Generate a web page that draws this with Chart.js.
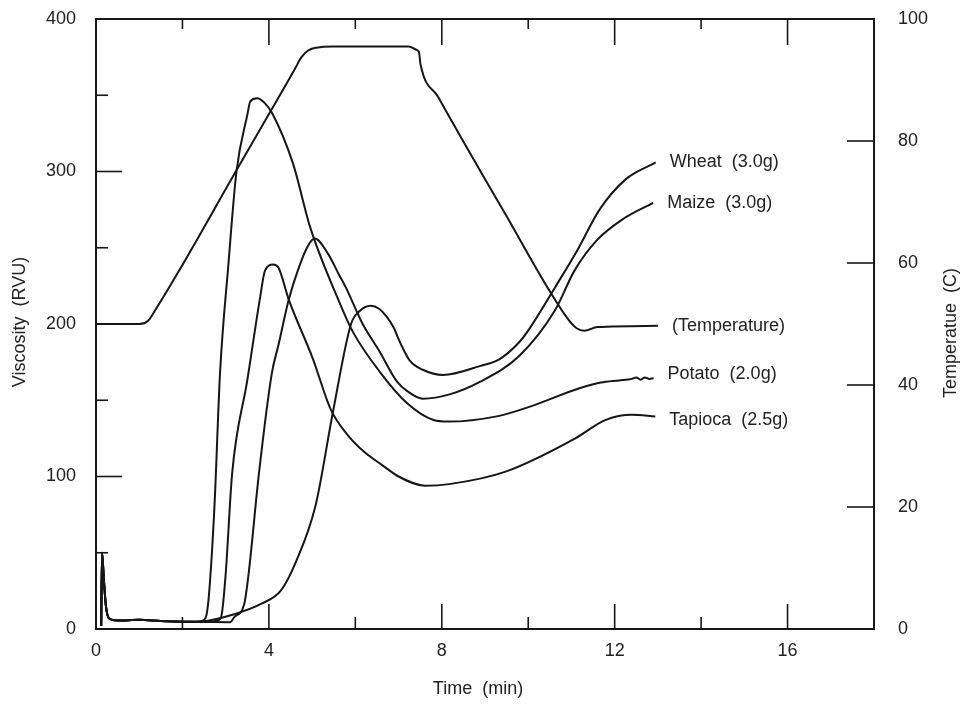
<!DOCTYPE html>
<html>
<head>
<meta charset="utf-8">
<script src="https://cdn.jsdelivr.net/npm/chart.js@4.4.1/dist/chart.umd.min.js"></script>
<style>
  html, body { margin: 0; padding: 0; background: #fff; }
</style>
</head>
<body>
<canvas id="rva" width="963" height="705"></canvas>
<script>
// RVA pasting curves: viscosity (RVU) vs time (min), temperature on the right axis

// start-up spike and flat baseline shared by every starch trace
const baseT = [0.12, 0.14, 0.18, 0.23, 0.30, 0.50, 1.00, 1.50, 2.00];
const baseV = [2, 50, 33, 15, 7, 5.5, 6, 5.2, 4.8];

const wheatT = [2.45, 3.20, 3.83, 4.28, 4.64, 5.08, 5.48, 5.90, 6.08, 6.36, 6.55, 6.72, 6.88, 7.05, 7.26, 7.56, 8.03, 8.88, 9.34, 9.79, 10.03, 10.62, 11.14, 11.65, 12.26, 12.95];
const wheatV = [5, 9.7, 16.6, 25.3, 45, 81, 142, 200, 208, 212, 210, 205, 198, 187, 176, 170, 166.6, 172.4, 177, 188, 197, 224, 248.6, 275, 295, 306];

const maizeT = [2.60, 3.10, 3.20, 3.43, 3.53, 3.77, 4.07, 4.22, 4.46, 4.68, 4.90, 5.06, 5.37, 5.61, 5.78, 6.17, 6.56, 6.97, 7.20, 7.56, 8.20, 8.88, 9.79, 10.62, 11.07, 11.59, 12.20, 12.89];
const maizeV = [4.6, 4.5, 7.8, 16.4, 36, 102, 168, 186, 216, 236, 251, 256, 246, 233, 224, 200, 182, 162, 156, 151, 154, 162, 179, 209, 235, 255, 269, 279.5];

const potatoT = [2.40, 2.50, 2.56, 2.62, 2.74, 2.87, 3.06, 3.25, 3.50, 3.57, 3.73, 3.90, 4.08, 4.56, 4.96, 5.62, 5.94, 6.57, 7.20, 7.81, 8.14, 9.30, 10.06, 11.20, 11.68, 12.10, 12.40, 12.50, 12.60, 12.70, 12.80, 12.90];
const potatoV = [5, 6, 9.6, 24.7, 80, 168, 238, 300, 337, 346, 348, 345, 338, 305, 263, 215, 195, 168.5, 148, 137, 136, 139.6, 146, 158, 161.6, 163, 164, 165, 163.5, 165, 164, 164.5];

const tapiocaT = [2.50, 2.80, 2.86, 2.91, 3.00, 3.15, 3.50, 3.80, 3.91, 4.10, 4.22, 4.46, 5.02, 5.43, 5.80, 6.21, 6.62, 7.00, 7.61, 8.17, 9.46, 11.09, 11.78, 12.40, 12.94];
const tapiocaV = [4.8, 5.5, 6.3, 9.7, 36, 102, 163, 218, 235, 239, 237, 216, 177, 144, 128, 116, 107.5, 100, 94, 95, 103, 125, 137, 140.5, 139.4];

// temperature profile (C)
const tempT = [0, 1.00, 1.20, 1.39, 1.91, 3.25, 4.44, 4.60, 4.75, 4.90, 5.10, 5.50, 7.24, 7.40, 7.47, 7.51, 7.91, 9.44, 10.90, 11.12, 11.30, 11.60, 13.00];
const tempC = [50, 50, 50.5, 52.5, 58.6, 75.2, 89.8, 91.8, 93.7, 94.8, 95.3, 95.5, 95.5, 95, 94.6, 92.5, 87.3, 68.4, 51, 49.3, 48.9, 49.5, 49.7];

const seriesNames = ["Wheat  (3.0g)", "Maize  (3.0g)", "(Temperature)", "Potato  (2.0g)", "Tapioca  (2.5g)"];

// axis ticks
const xLabels = [0, 4, 8, 12, 16];
const xMajor = [4, 8, 12, 16];
const xMinor = [2, 6, 10, 14];
const vLabels = [0, 100, 200, 300, 400];
const vMajor = [100, 200, 300];
const vMinor = [50, 150, 250, 350];
const cLabels = [0, 20, 40, 60, 80, 100];
const cMajor = [20, 40, 60, 80];

const INK = "#161616";
const TXT = "#222";
const FONT = "'Liberation Sans', Arial, sans-serif";
const labelNudge = [0, 0, 0, -4, 4];

const pts = (ts, vs) => ts.map((t, i) => ({x: t, y: vs[i]}));
const withBase = (ts, vs) => pts(baseT.concat(ts), baseV.concat(vs));

const lineSet = (label, data, axis = "y") => ({
  label, data, yAxisID: axis,
  borderColor: INK, borderWidth: 2, pointRadius: 0, fill: false,
  cubicInterpolationMode: "monotone",
});

// frame, inward tick marks, axis titles and end-of-curve labels
const decor = {
  id: "decor",
  afterDatasetsDraw(chart) {
    const {ctx, chartArea: a, scales} = chart;
    const seg = (x1, y1, x2, y2) => { ctx.beginPath(); ctx.moveTo(x1, y1); ctx.lineTo(x2, y2); ctx.stroke(); };
    ctx.save();
    ctx.strokeStyle = INK;
    ctx.lineWidth = 2;
    ctx.strokeRect(a.left, a.top, a.right - a.left, a.bottom - a.top);
    ctx.lineWidth = 1.6;
    for (const v of xMajor) { const p = scales.x.getPixelForValue(v); seg(p, a.bottom, p, a.bottom - 25); seg(p, a.top, p, a.top + 26); }
    for (const v of xMinor) { const p = scales.x.getPixelForValue(v); seg(p, a.bottom, p, a.bottom - 12); seg(p, a.top, p, a.top + 10); }
    for (const v of vMajor) { const p = scales.y.getPixelForValue(v); seg(a.left, p, a.left + 26, p); }
    for (const v of vMinor) { const p = scales.y.getPixelForValue(v); seg(a.left, p, a.left + 12, p); }
    for (const v of cMajor) { const p = scales.y2.getPixelForValue(v); seg(a.right, p, a.right - 27, p); }

    ctx.fillStyle = TXT;
    ctx.font = "18px " + FONT;
    ctx.textAlign = "left";
    ctx.textBaseline = "middle";
    chart.data.datasets.forEach((ds, i) => {
      const pts = chart.getDatasetMeta(i).data;
      const last = pts[pts.length - 1];
      ctx.fillText(ds.label, last.x + 14, last.y + labelNudge[i]);
    });

    ctx.textAlign = "center";
    ctx.fillText("Time  (min)", 478, 689);
    ctx.save();
    ctx.translate(20, 322); ctx.rotate(-Math.PI / 2);
    ctx.fillText("Viscosity  (RVU)", 0, 0);
    ctx.restore();
    ctx.save();
    ctx.translate(951, 333); ctx.rotate(-Math.PI / 2);
    ctx.fillText("Temperatue  (C)", 0, 0);
    ctx.restore();
    ctx.restore();
  },
};

const tickFont = {size: 18, family: FONT};
const setTicks = (vals) => (s) => { s.ticks = vals.map(v => ({value: v})); };
const fixWidth = (w) => (s) => { s.width = w; s.paddingTop = 0; s.paddingBottom = 0; };

new Chart(document.getElementById("rva"), {
  type: "line",
  data: {
    datasets: [
      lineSet(seriesNames[0], withBase(wheatT, wheatV)),
      lineSet(seriesNames[1], withBase(maizeT, maizeV)),
      lineSet(seriesNames[2], pts(tempT, tempC), "y2"),
      lineSet(seriesNames[3], withBase(potatoT, potatoV)),
      lineSet(seriesNames[4], withBase(tapiocaT, tapiocaV)),
    ],
  },
  options: {
    responsive: false, animation: false,
    layout: {padding: {top: 19, left: 0, right: 0, bottom: 0}},
    plugins: {legend: {display: false}, tooltip: {enabled: false}},
    scales: {
      x: {
        type: "linear", min: 0, max: 18,
        grid: {display: false}, border: {display: false},
        ticks: {color: TXT, font: tickFont, padding: 3, maxRotation: 0},
        afterBuildTicks: setTicks(xLabels),
        afterFit: (s) => { s.height = 76; s.paddingLeft = 0; s.paddingRight = 0; },
      },
      y: {
        position: "left", min: 0, max: 400,
        grid: {display: false}, border: {display: false},
        ticks: {color: TXT, font: tickFont, padding: 12},
        afterBuildTicks: setTicks(vLabels),
        afterFit: fixWidth(96),
      },
      y2: {
        position: "right", min: 0, max: 100,
        grid: {display: false}, border: {display: false},
        ticks: {color: TXT, font: tickFont, padding: 16},
        afterBuildTicks: setTicks(cLabels),
        afterFit: fixWidth(89),
      },
    },
  },
  plugins: [decor],
});
</script>
</body>
</html>
